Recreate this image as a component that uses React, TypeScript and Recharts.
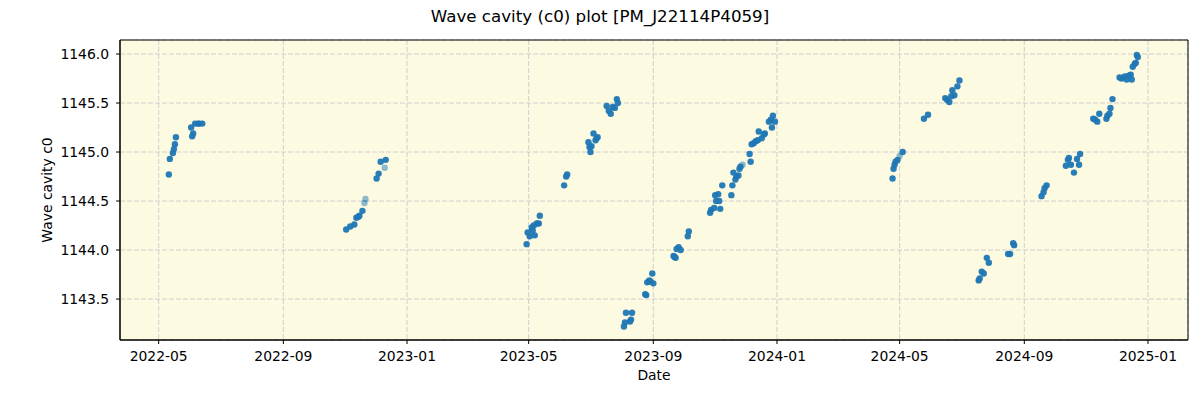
import { CartesianGrid, ReferenceArea, Scatter, ScatterChart, XAxis, YAxis } from 'recharts'

// observation dates and cavity values, one season per pair of arrays
const dates2022 = [
  '2022-05-11', '2022-05-12', '2022-05-15', '2022-05-16', '2022-05-17', '2022-05-18',
  '2022-06-02', '2022-06-03', '2022-06-04', '2022-06-06', '2022-06-09', '2022-06-10', '2022-06-13',
  '2022-11-02', '2022-11-06', '2022-11-10', '2022-11-12', '2022-11-14', '2022-11-15', '2022-11-18',
  '2022-12-02', '2022-12-04', '2022-12-06', '2022-12-11',
]
const values2022 = [
  1144.77, 1144.93, 1144.99, 1145.03, 1145.08, 1145.15,
  1145.25, 1145.16, 1145.19, 1145.29, 1145.29, 1145.29, 1145.29,
  1144.21, 1144.24, 1144.26, 1144.33, 1144.34, 1144.35, 1144.4,
  1144.73, 1144.78, 1144.9, 1144.92,
]

const dates2023 = [
  '2023-04-29', '2023-04-30', '2023-05-02', '2023-05-04', '2023-05-05', '2023-05-06', '2023-05-07', '2023-05-09', '2023-05-11', '2023-05-12',
  '2023-06-05', '2023-06-07', '2023-06-08',
  '2023-06-29', '2023-06-30', '2023-07-01', '2023-07-02', '2023-07-04', '2023-07-06', '2023-07-07', '2023-07-08',
  '2023-07-17', '2023-07-19', '2023-07-21', '2023-07-23', '2023-07-25', '2023-07-27', '2023-07-28',
  '2023-08-03', '2023-08-04', '2023-08-05', '2023-08-09', '2023-08-10', '2023-08-11',
  '2023-08-24', '2023-08-25', '2023-08-26', '2023-08-28', '2023-08-29', '2023-08-31', '2023-09-01',
  '2023-09-21', '2023-09-22', '2023-09-23', '2023-09-24', '2023-09-26', '2023-09-28', '2023-10-05', '2023-10-06',
  '2023-10-27', '2023-10-28', '2023-10-31', '2023-11-01', '2023-11-02', '2023-11-04', '2023-11-05', '2023-11-06', '2023-11-08',
  '2023-11-17', '2023-11-18', '2023-11-19', '2023-11-21', '2023-11-22', '2023-11-24', '2023-11-25', '2023-11-26',
  '2023-12-05', '2023-12-06', '2023-12-07', '2023-12-09', '2023-12-11', '2023-12-13', '2023-12-14', '2023-12-17',
  '2023-12-19', '2023-12-20', '2023-12-24', '2023-12-26', '2023-12-27', '2023-12-28', '2023-12-30',
]
const values2023 = [
  1144.06, 1144.18, 1144.14, 1144.23, 1144.2, 1144.25, 1144.15, 1144.27, 1144.27, 1144.35,
  1144.66, 1144.75, 1144.77,
  1145.1, 1145.05, 1145.0, 1145.06, 1145.19, 1145.12, 1145.14, 1145.15,
  1145.47, 1145.42, 1145.39, 1145.46, 1145.45, 1145.54, 1145.5,
  1143.22, 1143.26, 1143.36, 1143.27, 1143.29, 1143.36,
  1143.55, 1143.54, 1143.67, 1143.69, 1143.68, 1143.76, 1143.66,
  1143.94, 1143.93, 1143.92, 1144.01, 1144.03, 1144.0, 1144.14, 1144.19,
  1144.38, 1144.41, 1144.43, 1144.56, 1144.5, 1144.57, 1144.5, 1144.42, 1144.66,
  1144.56, 1144.66, 1144.79, 1144.72, 1144.75, 1144.76, 1144.83, 1144.85,
  1144.98, 1144.9, 1145.08, 1145.09, 1145.11, 1145.12, 1145.21, 1145.14,
  1145.18, 1145.19, 1145.31, 1145.33, 1145.25, 1145.37, 1145.31,
]

const dates2024 = [
  '2024-04-24', '2024-04-25', '2024-04-26', '2024-04-27', '2024-04-29', '2024-05-04',
  '2024-05-25', '2024-05-29',
  '2024-06-15', '2024-06-17', '2024-06-19', '2024-06-21', '2024-06-22', '2024-06-24', '2024-06-27', '2024-06-29',
  '2024-07-18', '2024-07-19', '2024-07-21', '2024-07-23', '2024-07-26', '2024-07-28',
  '2024-08-16', '2024-08-18', '2024-08-21', '2024-08-22',
  '2024-09-18', '2024-09-20', '2024-09-21', '2024-09-23',
  '2024-10-12', '2024-10-14', '2024-10-15', '2024-10-17', '2024-10-20', '2024-10-23', '2024-10-25', '2024-10-26',
  '2024-11-08', '2024-11-10', '2024-11-12', '2024-11-14', '2024-11-21', '2024-11-22', '2024-11-24', '2024-11-25', '2024-11-27',
  '2024-12-04', '2024-12-06', '2024-12-09', '2024-12-11', '2024-12-13', '2024-12-15',
  '2024-12-16', '2024-12-17', '2024-12-19', '2024-12-20', '2024-12-21', '2024-12-22',
]
const values2024 = [
  1144.73, 1144.83, 1144.87, 1144.9, 1144.92, 1145.0,
  1145.34, 1145.38,
  1145.55, 1145.53, 1145.51, 1145.57, 1145.63, 1145.58, 1145.67, 1145.73,
  1143.69, 1143.71, 1143.78, 1143.76, 1143.92, 1143.87,
  1143.96, 1143.96, 1144.07, 1144.05,
  1144.55, 1144.59, 1144.63, 1144.66,
  1144.86, 1144.92, 1144.94, 1144.87, 1144.79, 1144.93, 1144.87, 1144.98,
  1145.34, 1145.33, 1145.31, 1145.39, 1145.34, 1145.37, 1145.39, 1145.45, 1145.54,
  1145.76, 1145.75, 1145.77, 1145.74, 1145.78, 1145.79,
  1145.74, 1145.87, 1145.9, 1145.91, 1145.99, 1145.97,
]

// the few paler points
const faintDates = ['2022-11-20', '2022-11-21', '2022-12-10', '2023-11-28', '2024-05-01']
const faintValues = [1144.48, 1144.52, 1144.84, 1144.87, 1144.96]

const monthTicks = [
  '2022-05-01', '2022-09-01', '2023-01-01', '2023-05-01', '2023-09-01',
  '2024-01-01', '2024-05-01', '2024-09-01', '2025-01-01',
]
const yTicks = [1143.5, 1144.0, 1144.5, 1145.0, 1145.5, 1146.0]

const xDomain = [Date.parse('2022-03-23T20:00:00Z'), Date.parse('2025-02-09T12:00:00Z')]
const yDomain = [1143.082, 1146.143]

const toPoints = (dates: string[], values: number[]) =>
  dates.map((d, i) => ({ t: Date.parse(d), c0: values[i] }))

const solid = [
  ...toPoints(dates2022, values2022),
  ...toPoints(dates2023, values2023),
  ...toPoints(dates2024, values2024),
]
const faint = toPoints(faintDates, faintValues)

const FONT = '"DejaVu Sans", sans-serif'

const dot = (opacity: number) => (p: any) =>
  <circle cx={p.cx} cy={p.cy} r={3.2} fill="#1f77b4" fillOpacity={opacity} />

export default function App() {
  return (
    <div style={{ position: 'relative', width: 1200, height: 400, fontFamily: FONT, background: '#fff' }}>
      <style>{'body{margin:0}'}</style>
      <div style={{ position: 'absolute', top: 6, left: 0, width: 1200, textAlign: 'center', fontSize: 16.7, lineHeight: '20px', color: '#000' }}>
        Wave cavity (c0) plot [PM_J22114P4059]
      </div>
      <ScatterChart width={1200} height={400} margin={{ top: 40, right: 12, bottom: 0, left: 0 }}>
        <CartesianGrid strokeDasharray="5 2" stroke="#cfcfcf" fill="#fcfae1" fillOpacity={1} />
        <XAxis
          type="number"
          dataKey="t"
          domain={xDomain}
          ticks={monthTicks.map((d) => Date.parse(d))}
          tickFormatter={(t: number) => new Date(t).toISOString().slice(0, 7)}
          allowDataOverflow
          height={60}
          tickSize={4}
          tickMargin={7}
          stroke="#000"
          tick={{ fill: '#000', fontSize: 13.9, fontFamily: FONT }}
          label={(props: any) => {
            const vb = props.viewBox
            return (
              <text x={vb.x + vb.width / 2} y={380} textAnchor="middle" fontSize={13.9} fontFamily={FONT} fill="#000">
                Date
              </text>
            )
          }}
        />
        <YAxis
          type="number"
          dataKey="c0"
          domain={yDomain}
          ticks={yTicks}
          tickFormatter={(v: number) => v.toFixed(1)}
          allowDataOverflow
          width={120}
          tickSize={4}
          tickMargin={7}
          stroke="#000"
          tick={{ fill: '#000', fontSize: 13.9, fontFamily: FONT }}
          label={(props: any) => {
            const vb = props.viewBox
            const cy = vb.y + vb.height / 2
            return (
              <text x={52} y={cy} transform={`rotate(-90 52 ${cy})`} textAnchor="middle" fontSize={13.9} fontFamily={FONT} fill="#000">
                Wave cavity c0
              </text>
            )
          }}
        />
        <Scatter data={solid} shape={dot(0.95)} isAnimationActive={false} />
        <Scatter data={faint} shape={dot(0.5)} isAnimationActive={false} />
        <ReferenceArea x1={xDomain[0]} x2={xDomain[1]} y1={yDomain[0]} y2={yDomain[1]} fill="none" stroke="#000" strokeWidth={1} />
      </ScatterChart>
    </div>
  )
}
